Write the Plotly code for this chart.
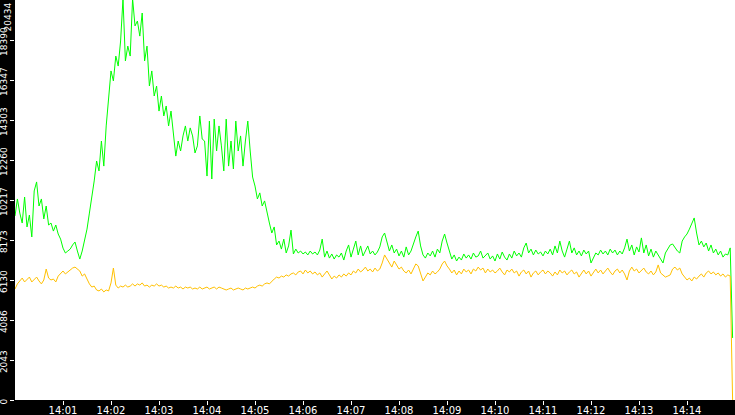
import pandas as pd
import plotly.graph_objects as go

# samples every 3 s from 14:00:00
times = pd.date_range("2024-01-01 14:00:00", periods=300, freq="3s")

green = [
    9400, 10270, 9550, 9040, 10370, 8840, 9450, 8330, 10680, 11140,
    9910, 10270, 9250, 9910, 8940, 9040, 8630, 8940, 8480, 8220,
    7760, 7510, 7610, 7710, 7920, 8070, 7610, 7200, 7610, 8220,
    8730, 9550, 10270, 11190, 12210, 11700, 13230, 11950, 14000, 15270,
    16810, 16300, 17570, 17060, 18340, 20500, 17320, 18080, 17570, 20500,
    19110, 19360, 18590, 19770, 17320, 18080, 16040, 16810, 15530, 16040,
    14760, 15530, 14510, 15020, 14000, 14760, 13740, 12460, 13230, 12720,
    13490, 14000, 13230, 13900, 13490, 12620, 12980, 14510, 13330, 13230,
    11440, 14250, 11290, 14350, 12720, 14000, 12980, 11700, 14350, 11950,
    13230, 11800, 14250, 12720, 13490, 11950, 13230, 14250, 12720, 11390,
    10930, 10270, 10580, 9910, 10170, 9550, 9040, 8530, 8840, 7920,
    8120, 7710, 8220, 7510, 7870, 8680, 7460, 7710, 7510, 7610,
    7460, 7560, 7410, 7610, 7460, 7560, 7410, 7660, 8220, 7300,
    7610, 7250, 7460, 7200, 7410, 7300, 7510, 7150, 7610, 7920,
    7300, 7710, 8120, 7410, 7870, 7360, 7610, 7870, 7460, 7610,
    7410, 7560, 7820, 8330, 8530, 8120, 7610, 7920, 7510, 7710,
    7360, 7610, 7300, 7820, 7410, 7610, 8020, 8330, 8630, 7870,
    7410, 7250, 7510, 7360, 7610, 7300, 7710, 7510, 8120, 8480,
    8020, 7610, 7200, 7410, 7100, 7300, 7150, 7460, 7250, 7410,
    7200, 7510, 7300, 7360, 7610, 7250, 7410, 7510, 7200, 7360,
    7100, 7460, 7200, 7560, 7300, 7150, 7460, 7250, 7610, 7360,
    7510, 7300, 7770, 8020, 7510, 7710, 7410, 7660, 7460, 7560,
    7360, 7610, 7460, 7710, 7410, 7870, 7510, 8120, 7610, 7300,
    7710, 8120, 7510, 7770, 7410, 7610, 7360, 7660, 7460, 7610,
    7000, 7300, 7510, 7410, 7660, 7460, 7610, 7410, 7710, 7510,
    7660, 7410, 7610, 7460, 7770, 8220, 7610, 7920, 7410, 7820,
    7560, 8280, 7510, 7920, 7360, 7710, 7300, 7610, 7410, 7200,
    7000, 7510, 7710, 7920, 7970, 7770, 7610, 7510, 8120, 8330,
    8480, 8730, 9040, 9300, 8530, 7920, 8120, 7820, 8020, 7610,
    7920, 7510, 7710, 7410, 7610, 7300, 7460, 7410, 7770, 3170,
]

orange = [
    5670, 5930, 6080, 6230, 6030, 6180, 6280, 6030, 6180, 6280,
    6080, 5930, 6130, 6690, 6230, 6130, 6180, 6030, 6330, 6490,
    6590, 6440, 6540, 6640, 6740, 6790, 6690, 6590, 6330, 6440,
    6180, 5930, 5770, 5820, 5620, 5570, 5670, 5520, 5620, 5570,
    5980, 6740, 5870, 5720, 5820, 5770, 5870, 5770, 5820, 5930,
    5820, 5930, 5870, 5980, 5820, 5870, 5770, 5870, 5820, 5930,
    5820, 5870, 5770, 5820, 5720, 5770, 5720, 5820, 5720, 5770,
    5670, 5770, 5720, 5770, 5670, 5720, 5670, 5770, 5670, 5720,
    5770, 5670, 5720, 5770, 5670, 5770, 5720, 5670, 5620, 5670,
    5720, 5620, 5670, 5720, 5670, 5620, 5720, 5670, 5720, 5770,
    5720, 5820, 5870, 5820, 5930, 5980, 5930, 6080, 6180, 6280,
    6230, 6330, 6280, 6390, 6330, 6440, 6490, 6390, 6540, 6590,
    6440, 6640, 6490, 6590, 6440, 6540, 6390, 6490, 6280, 6440,
    6590, 6390, 6180, 6330, 6230, 6390, 6280, 6440, 6330, 6490,
    6390, 6590, 6490, 6690, 6540, 6640, 6790, 6590, 6690, 6540,
    6740, 6590, 6690, 7000, 7410, 7200, 7000, 6790, 7100, 6900,
    6690, 6790, 6590, 6490, 6640, 6440, 6740, 6950, 6850, 6490,
    6080, 6280, 6490, 6390, 6590, 6440, 6540, 6690, 6950, 7100,
    6850, 6690, 6490, 6640, 6390, 6590, 6440, 6690, 6540, 6640,
    6440, 6690, 6590, 6790, 6640, 6740, 6490, 6690, 6540, 6640,
    6490, 6590, 6740, 6540, 6390, 6640, 6540, 6690, 6490, 6590,
    6330, 6540, 6640, 6440, 6590, 6280, 6490, 6590, 6390, 6540,
    6640, 6440, 6590, 6490, 6330, 6540, 6390, 6640, 6490, 6590,
    6390, 6540, 6640, 6440, 6540, 6280, 6490, 6640, 6440, 6590,
    6330, 6540, 6690, 6490, 6640, 6440, 6590, 6740, 6540, 6390,
    6590, 6690, 6490, 6640, 6440, 6130, 6590, 6790, 6590, 6690,
    6490, 6640, 6740, 6540, 6440, 6590, 6390, 6540, 6900, 6490,
    6390, 6280, 6330, 6390, 6690, 6790, 6640, 6740, 6440, 6280,
    6130, 6230, 6080, 6280, 6180, 6330, 6440, 6280, 6490, 6590,
    6440, 6540, 6390, 6490, 6330, 6440, 6280, 6390, 6330, 0,
]

y_ticks = [0, 2043, 4086, 6130, 8173, 10217, 12260, 14303, 16347, 18390]
y_top = 20434
x_labels = ["14:01", "14:02", "14:03", "14:04", "14:05", "14:06", "14:07",
            "14:08", "14:09", "14:10", "14:11", "14:12", "14:13", "14:14"]

x_ticks = ["2024-01-01 " + t + ":00" for t in x_labels]

fig = go.Figure()
fig.add_trace(go.Scatter(x=times, y=green, mode="lines",
                         line=dict(color="#00ff00", width=1)))
fig.add_trace(go.Scatter(x=times, y=orange, mode="lines",
                         line=dict(color="#ffc000", width=1)))

font = dict(family="DejaVu Sans", size=10, color="white")
yfont = dict(family="DejaVu Sans", size=9, color="white")

fig.update_layout(
    template="none",
    width=735, height=415,
    margin=dict(l=15, r=0, t=0, b=15, pad=0),
    paper_bgcolor="black", plot_bgcolor="white",
    showlegend=False,
    font=font,
)
fig.update_xaxes(
    automargin=False,
    range=["2024-01-01 14:00:00", "2024-01-01 14:15:00"],
    tickvals=x_ticks, ticktext=x_labels,
    ticks="outside", ticklen=4, tickcolor="white", tickwidth=1,
    ticklabelstandoff=-3,
    showgrid=False, zeroline=False, showline=False,
    tickfont=font,
)
fig.update_yaxes(
    automargin=False,
    range=[0, y_top],
    tickvals=y_ticks, ticktext=[str(v) for v in y_ticks],
    tickangle=-90,
    ticks="outside", ticklen=4, tickcolor="white", tickwidth=1,
    ticklabelstandoff=-1,
    ticklabelshift=3,
    showgrid=False, zeroline=False, showline=False,
    tickfont=yfont,
)
# top label sits inside the page in the original
fig.add_annotation(
    x=0, xref="paper", xanchor="left", xshift=-15,
    y=y_top, yref="y", yanchor="top", yshift=-1,
    text=str(y_top), textangle=-90, showarrow=False, font=yfont,
)

fig.write_html("out.html", config={"displayModeBar": False},
               post_script="document.body.style.margin='0';")
